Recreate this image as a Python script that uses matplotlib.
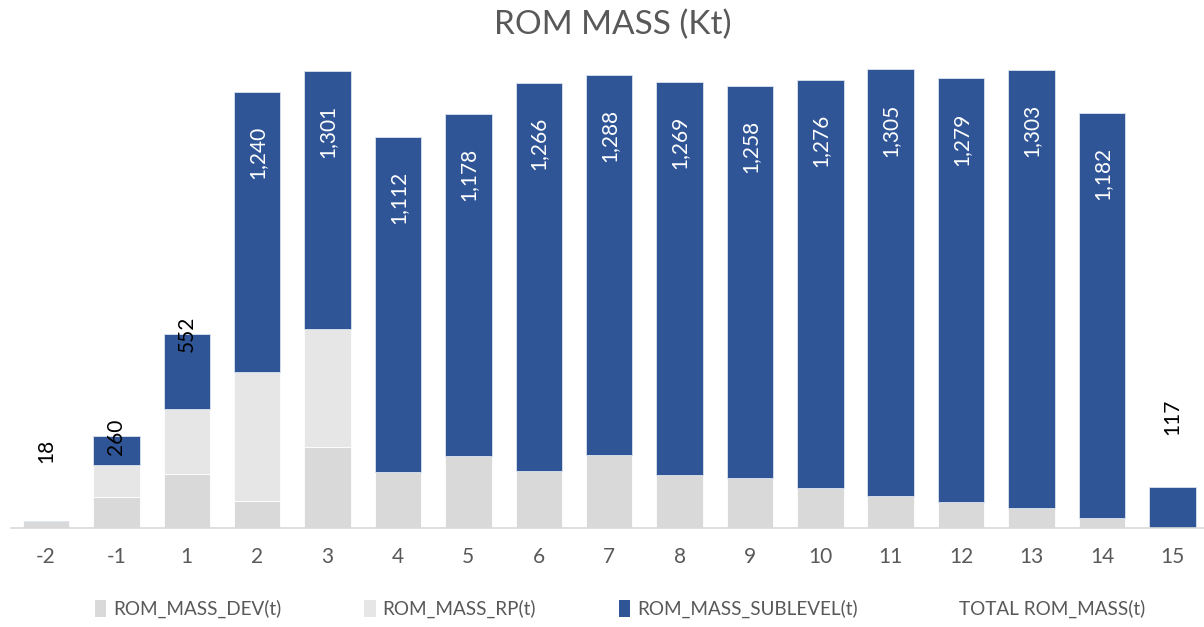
import matplotlib
matplotlib.use("Agg")
import matplotlib.pyplot as plt
from matplotlib.patches import Patch
import numpy as np

categories = ["-2", "-1", "1", "2", "3", "4", "5", "6", "7", "8", "9", "10", "11", "12", "13", "14", "15"]
dev = [18, 87, 154, 77, 230, 160, 203, 162, 207, 149, 141, 114, 90, 72, 55, 28, 0]
rp = [0, 92, 184, 367, 336, 0, 0, 0, 0, 0, 0, 0, 0, 0, 0, 0, 0]
totals = [18, 260, 552, 1240, 1301, 1112, 1178, 1266, 1288, 1269, 1258, 1276, 1305, 1279, 1303, 1182, 117]
sublevel = [t - d - r for t, d, r in zip(totals, dev, rp)]

plt.rcParams['font.family'] = ['Lato', 'DejaVu Sans']
C_DEV = "#d9d9d9"
C_RP = "#e7e6e6"
C_SUB = "#2f5597"
GREY = "#595959"

fig = plt.figure(figsize=(12.04, 6.27), dpi=100)
ax = fig.add_axes([10.75 / 1204, 1 - 527.7 / 627, (1204 - 10.75) / 1204, (527.7 - 36) / 627])

x = np.arange(len(categories))
w = 0.66
dev_a = np.array(dev)
rp_a = np.array(rp)
sub_a = np.array(sublevel)
ax.bar(x, dev_a, w, color=C_DEV, edgecolor="white", linewidth=0.6, label="ROM_MASS_DEV(t)")
ax.bar(x, rp_a, w, bottom=dev_a, color=C_RP, edgecolor="white", linewidth=0.6, label="ROM_MASS_RP(t)")
ax.bar(x, sub_a, w, bottom=dev_a + rp_a, color=C_SUB, edgecolor="#dce3ef", linewidth=0.6, label="ROM_MASS_SUBLEVEL(t)")

for xi, t in zip(x, totals):
    txt = f"{t:,}"
    if t >= 1000:
        ax.annotate(txt, (xi, t), xytext=(0, -34), textcoords="offset pixels", rotation=90,
                    ha="center", va="top", color="white", fontsize=15)
    elif t >= 200:
        ax.annotate(txt, (xi, t), xytext=(0, 0), textcoords="offset pixels", rotation=90,
                    ha="center", va="center", color="black", fontsize=15)
    else:
        ax.annotate(txt, (xi, t), xytext=(0, 70), textcoords="offset pixels", rotation=90,
                    ha="center", va="center", color="black", fontsize=15)

ax.set_xlim(-0.5, 16.45)
ax.set_ylim(0, 1400)
ax.set_xticks(x)
ax.set_xticklabels(categories, fontsize=15, color=GREY)
ax.tick_params(axis="x", length=0, pad=14)
ax.set_yticks([])
for s in ["top", "right", "left"]:
    ax.spines[s].set_visible(False)
ax.spines["bottom"].set_color("#d9d9d9")
ax.spines["bottom"].set_linewidth(1.2)

fig.text(613 / 1204, 1 - 25 / 627, "ROM MASS (Kt)", ha="center", va="center", fontsize=24, color=GREY)

handles = [Patch(facecolor=C_DEV, label="ROM_MASS_DEV(t)"),
           Patch(facecolor=C_RP, label="ROM_MASS_RP(t)"),
           Patch(facecolor=C_SUB, label="ROM_MASS_SUBLEVEL(t)"),
           Patch(facecolor="none", edgecolor="none", label="TOTAL ROM_MASS(t)")]
leg = fig.legend(handles=handles, loc="center", bbox_to_anchor=(620 / 1204, 1 - 609 / 627), ncol=4,
                 frameon=False, fontsize=13.6, handlelength=0.6, handleheight=1.0, handletextpad=0.35,
                 columnspacing=4.4)
for t in leg.get_texts():
    t.set_color(GREY)

fig.savefig("out.png", dpi=100)
